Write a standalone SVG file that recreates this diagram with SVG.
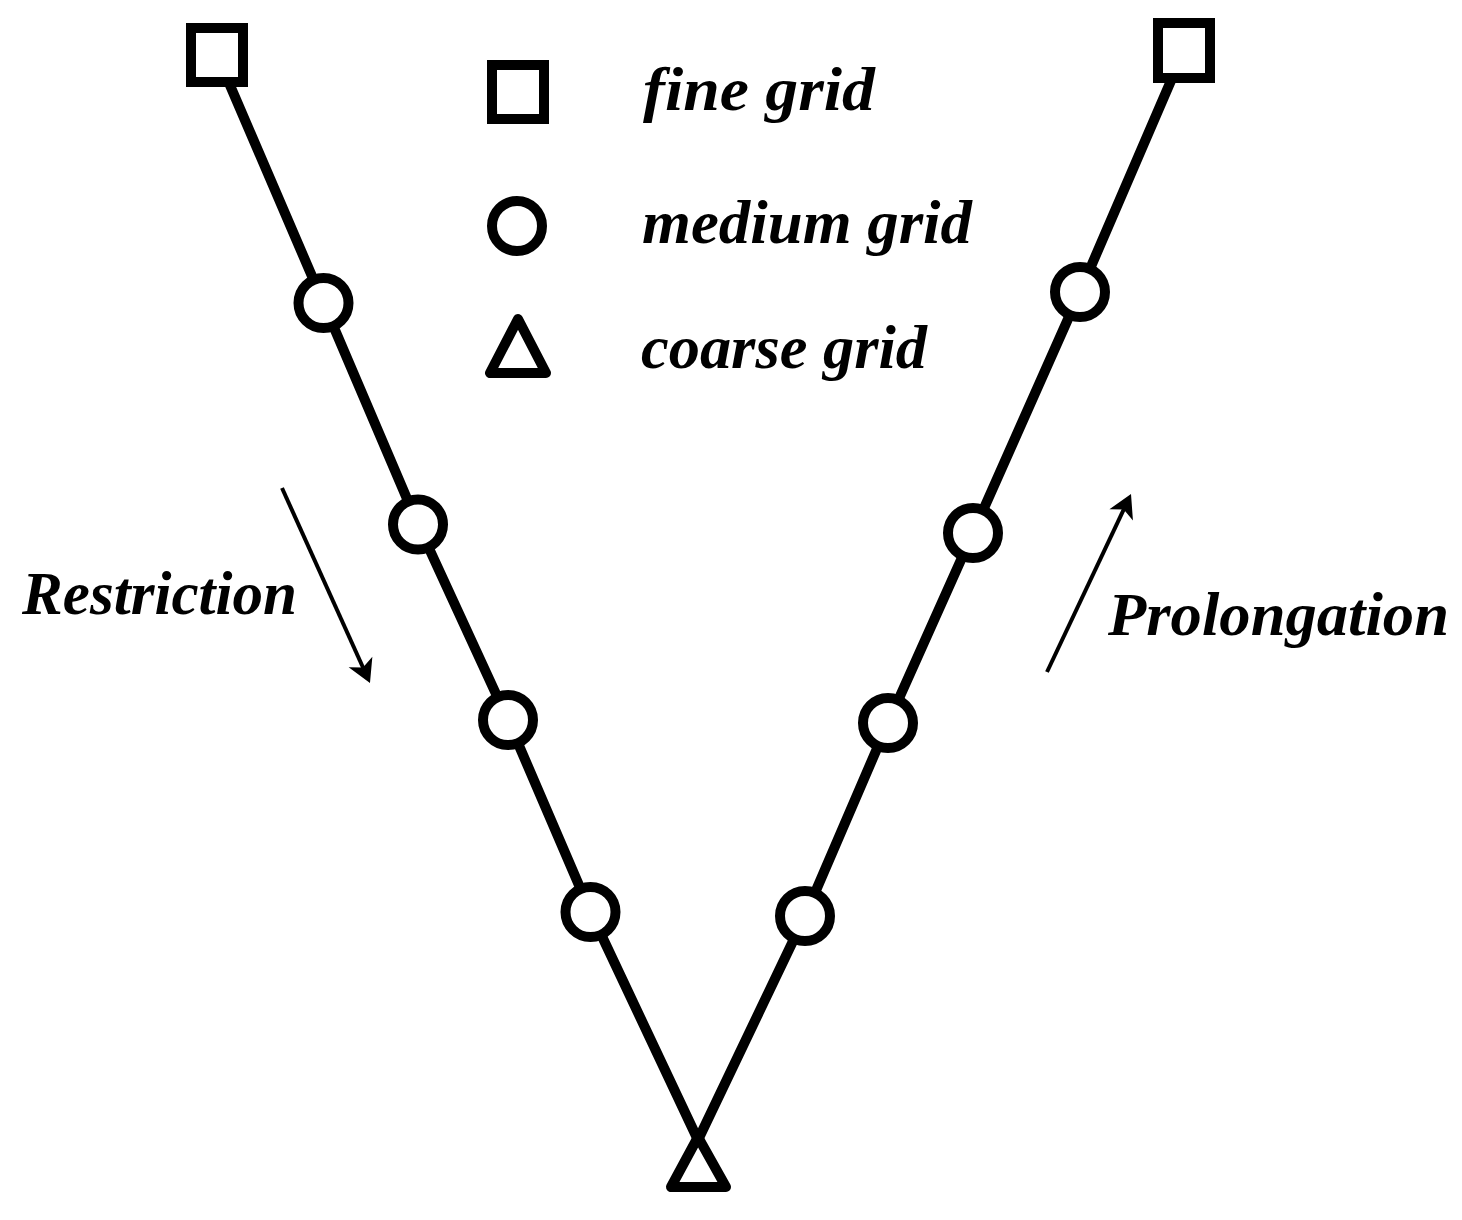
<svg xmlns="http://www.w3.org/2000/svg" width="1462" height="1220" viewBox="0 0 1462 1220">
<style>
.shape{fill:#fff;stroke:#000;stroke-width:10;stroke-linejoin:round}
.sq{fill:#fff;stroke:#000;stroke-width:10;stroke-linejoin:miter}
.edge{fill:none;stroke:#000;stroke-width:10;stroke-linecap:butt;stroke-linejoin:round}
.arrow{fill:none;stroke:#000;stroke-width:4}
.lbl{font-family:"Liberation Serif","Times New Roman",serif;font-weight:bold;font-style:italic;font-size:62px;fill:#000}
</style>
<defs>
<marker id="ah" markerUnits="userSpaceOnUse" markerWidth="30" markerHeight="30" viewBox="0 -15 30 30" refX="8" refY="0" orient="auto" overflow="visible">
<path d="M23,0 L0,-13 L6,0 L0,13 Z" fill="#000"/>
</marker>
</defs>
<rect width="1462" height="1220" fill="#fff"/>
<g id="connectors">
<polyline class="edge" points="217,55 323.5,303 418,524.5 508,720 590.5,912 698,1140"/>
<polyline class="edge" points="1184,50.5 1080,292 973,533 888,723 805,916 698,1140"/>
<path class="arrow" d="M282,488 L363.8,669.3" marker-end="url(#ah)"/>
<path class="arrow" d="M1047,672 L1124.6,507.6" marker-end="url(#ah)"/>
</g>
<g id="fine-left"><rect class="sq" x="191" y="28" width="52" height="54"/></g>
<g id="fine-right"><rect class="sq" x="1158" y="23" width="52" height="55"/></g>
<g id="medium-l1"><circle class="shape" cx="323.5" cy="303" r="25"/></g>
<g id="medium-l2"><circle class="shape" cx="418" cy="524.5" r="25"/></g>
<g id="medium-l3"><circle class="shape" cx="508" cy="720" r="25"/></g>
<g id="medium-l4"><circle class="shape" cx="590.5" cy="912" r="25"/></g>
<g id="medium-r1"><circle class="shape" cx="1080" cy="292" r="25"/></g>
<g id="medium-r2"><circle class="shape" cx="973" cy="533" r="25"/></g>
<g id="medium-r3"><circle class="shape" cx="888" cy="723" r="25"/></g>
<g id="medium-r4"><circle class="shape" cx="805" cy="916" r="25"/></g>
<g id="coarse"><path class="shape" d="M698,1137 L671,1187 L726,1187 Z" fill="none" style="fill:none"/></g>
<g id="legend">
<rect class="sq" x="492" y="65" width="52" height="54"/>
<circle class="shape" cx="517" cy="226" r="25"/>
<path class="shape" d="M518,319 L490,373 L546,373 Z"/>
<text class="lbl" x="643" y="110" textLength="232" lengthAdjust="spacingAndGlyphs">fine grid</text>
<text class="lbl" x="642" y="243" textLength="330" lengthAdjust="spacingAndGlyphs">medium grid</text>
<text class="lbl" x="641" y="368" textLength="286" lengthAdjust="spacingAndGlyphs">coarse grid</text>
</g>
<g id="labels">
<text class="lbl" x="22" y="614" textLength="275" lengthAdjust="spacingAndGlyphs">Restriction</text>
<text class="lbl" x="1108" y="635" textLength="341" lengthAdjust="spacingAndGlyphs">Prolongation</text>
</g>
</svg>
